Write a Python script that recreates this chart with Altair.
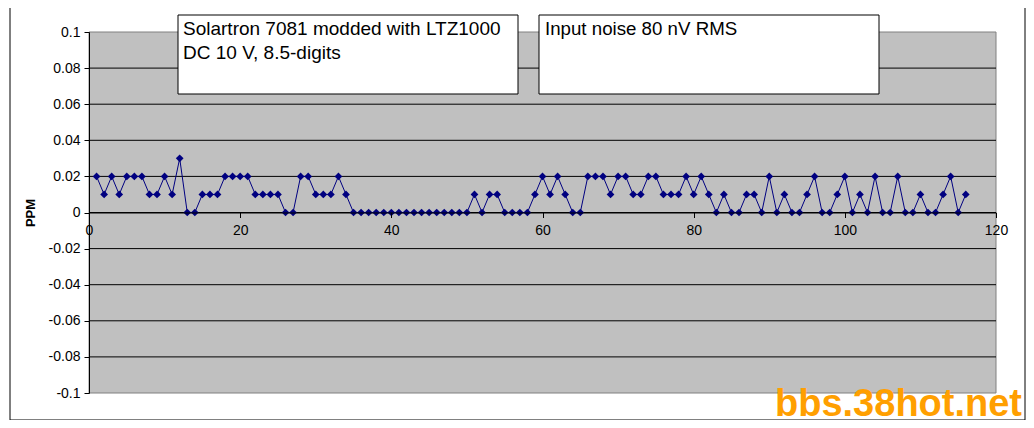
import altair as alt
import pandas as pd

# ---- data ----
sample = list(range(1, 117))
ppm = [0.02, 0.01, 0.02, 0.01, 0.02, 0.02, 0.02, 0.01, 0.01, 0.02,
       0.01, 0.03, 0.00, 0.00, 0.01, 0.01, 0.01, 0.02, 0.02, 0.02,
       0.02, 0.01, 0.01, 0.01, 0.01, 0.00, 0.00, 0.02, 0.02, 0.01,
       0.01, 0.01, 0.02, 0.01, 0.00, 0.00, 0.00, 0.00, 0.00, 0.00,
       0.00, 0.00, 0.00, 0.00, 0.00, 0.00, 0.00, 0.00, 0.00, 0.00,
       0.01, 0.00, 0.01, 0.01, 0.00, 0.00, 0.00, 0.00, 0.01, 0.02,
       0.01, 0.02, 0.01, 0.00, 0.00, 0.02, 0.02, 0.02, 0.01, 0.02,
       0.02, 0.01, 0.01, 0.02, 0.02, 0.01, 0.01, 0.01, 0.02, 0.01,
       0.02, 0.01, 0.00, 0.01, 0.00, 0.00, 0.01, 0.01, 0.00, 0.02,
       0.00, 0.01, 0.00, 0.00, 0.01, 0.02, 0.00, 0.00, 0.01, 0.02,
       0.00, 0.01, 0.00, 0.02, 0.00, 0.00, 0.02, 0.00, 0.00, 0.01,
       0.00, 0.00, 0.01, 0.02, 0.00, 0.01]

x_ticks = [0, 20, 40, 60, 80, 100, 120]
y_ticks = [-0.1, -0.08, -0.06, -0.04, -0.02, 0.0, 0.02, 0.04, 0.06, 0.08, 0.1]
grid_levels = [-0.08, -0.06, -0.04, -0.02, 0.0, 0.02, 0.04, 0.06, 0.08]

box1_lines = ["Solartron 7081 modded with LTZ1000", "DC 10 V, 8.5-digits"]
box2_lines = ["Input noise 80 nV RMS"]
y_title = "PPM"
watermark = "bbs.38hot.net"

W, H = 907, 361
FONT = "Arial, Liberation Sans, sans-serif"

df = pd.DataFrame({"sample": sample, "ppm": ppm})
grid_df = pd.DataFrame({"level": grid_levels})
one = pd.DataFrame({"k": [0]})

xscale = alt.Scale(domain=[0, 120], nice=False, zero=False)
yscale = alt.Scale(domain=[-0.1, 0.1], nice=False)

x_axis = alt.Axis(values=x_ticks, title=None, grid=False, offset=-H / 2,
                  domain=True, domainColor="black", ticks=True, tickColor="black",
                  tickSize=5, labelPadding=6, labelFont=FONT, labelFontSize=14,
                  labelColor="black", labelAngle=0, zindex=1, labelFlush=False,
                  labelOverlap=False)
y_axis = alt.Axis(values=y_ticks, grid=False, title=y_title,
                  labelExpr="'' + round(datum.value * 100) / 100",
                  domain=True, domainColor="black", ticks=True, tickColor="black",
                  tickSize=5, labelPadding=4, labelFont=FONT, labelFontSize=14,
                  labelColor="black", zindex=1, labelOverlap=False,
                  titleFont=FONT, titleFontSize=13, titleFontWeight="bold",
                  titleColor="black", titleX=-59, titleY=H / 2, titleAngle=-90,
                  titleBaseline="middle", titleAlign="center")

# outer chart frame (white with black border)
frame = alt.Chart(one).mark_rect(fill="white", stroke="black", strokeWidth=1).encode(
    x=alt.value(-79), x2=alt.value(936), y=alt.value(-27), y2=alt.value(388)
)

# grey plot area
plot_bg = alt.Chart(one).mark_rect(fill="#C0C0C0", stroke="#808080", strokeWidth=1).encode(
    x=alt.value(0), x2=alt.value(W), y=alt.value(0), y2=alt.value(H)
)

# horizontal gridlines
grid = alt.Chart(grid_df).mark_rule(color="black", strokeWidth=1).encode(
    y=alt.Y("level:Q", scale=yscale, axis=y_axis, title=y_title),
    x=alt.value(0), x2=alt.value(W)
)

# data line with diamond markers
line = alt.Chart(df).mark_line(color="#000080", strokeWidth=1).encode(
    x=alt.X("sample:Q", scale=xscale, axis=x_axis),
    y=alt.Y("ppm:Q", scale=yscale, axis=y_axis, title=y_title),
)
points = alt.Chart(df).mark_point(shape="diamond", filled=True, color="#000080",
                                  size=60, opacity=1).encode(
    x=alt.X("sample:Q", scale=xscale, axis=x_axis),
    y=alt.Y("ppm:Q", scale=yscale, axis=y_axis, title=y_title),
)

# annotation boxes
box1 = alt.Chart(one).mark_rect(fill="white", stroke="black", strokeWidth=1).encode(
    x=alt.value(89), x2=alt.value(429), y=alt.value(-17), y2=alt.value(62)
)
box2 = alt.Chart(one).mark_rect(fill="white", stroke="black", strokeWidth=1).encode(
    x=alt.value(450), x2=alt.value(790), y=alt.value(-17), y2=alt.value(62)
)
texts = []
for i, t in enumerate(box1_lines):
    texts.append(alt.Chart(one).mark_text(align="left", baseline="alphabetic", font=FONT,
                                          fontSize=19, color="black").encode(
        x=alt.value(94), y=alt.value(3 + 24 * i), text=alt.value(t)))
for i, t in enumerate(box2_lines):
    texts.append(alt.Chart(one).mark_text(align="left", baseline="alphabetic", font=FONT,
                                          fontSize=18.7, color="black").encode(
        x=alt.value(456), y=alt.value(3 + 24 * i), text=alt.value(t)))

wm = alt.Chart(one).mark_text(align="left", baseline="alphabetic", font=FONT,
                              fontSize=38, fontWeight="bold", color="#FF9F00").encode(
    x=alt.value(686), y=alt.value(384), text=alt.value(watermark))

chart = alt.layer(frame, plot_bg, grid, line, points, box1, box2, *texts, wm).properties(
    width=W, height=H,
    autosize=alt.AutoSizeParams(type="none"),
    padding={"left": 81, "top": 24, "right": 30, "bottom": 27},
    background="white",
).configure_view(stroke=None, fill=None)

chart.save("out.html", embed_options={"renderer": "svg", "actions": False})
